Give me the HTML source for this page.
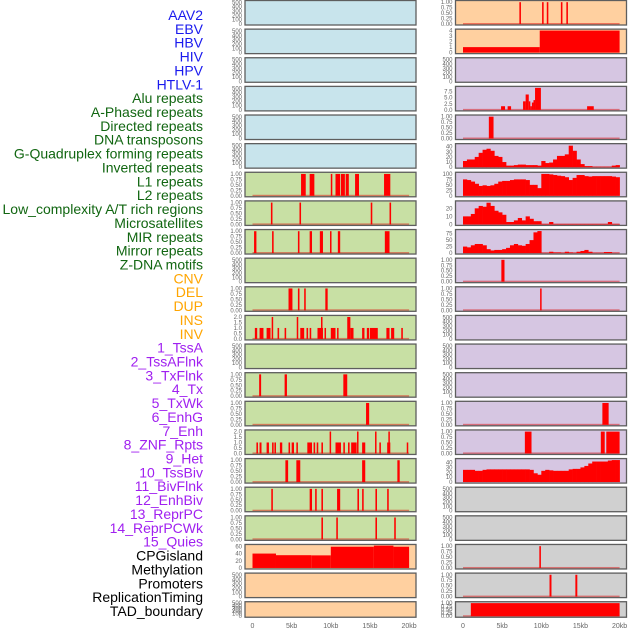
<!DOCTYPE html>
<html><head><meta charset="utf-8">
<style>
html,body{margin:0;padding:0;background:#fff;}
#wrap{position:relative;width:630px;height:630px;overflow:hidden;}
svg{position:absolute;left:0;top:0;}
</style></head>
<body>
<div id="wrap">
<svg id="chart" width="630" height="630" viewBox="0 0 630 630"></svg>
</div>
<script>
// ---- labels ----
const labelNames = ["AAV2","EBV","HBV","HIV","HPV","HTLV-1","Alu repeats","A-Phased repeats","Directed repeats","DNA transposons","G-Quadruplex forming repeats","Inverted repeats","L1 repeats","L2 repeats","Low_complexity A/T rich regions","Microsatellites","MIR repeats","Mirror repeats","Z-DNA motifs","CNV","DEL","DUP","INS","INV","1_TssA","2_TssAFlnk","3_TxFlnk","4_Tx","5_TxWk","6_EnhG","7_Enh","8_ZNF_Rpts","9_Het","10_TssBiv","11_BivFlnk","12_EnhBiv","13_ReprPC","14_ReprPCWk","15_Quies","CPGisland","Methylation","Promoters","ReplicationTiming","TAD_boundary"];
const labelGroups = [6,13,5,15,5];
const xTickLabels = ["0","5kb","10kb","15kb","20kb"];
const xTickValues = [0,5,10,15,20];

// ---- bar data [startKb, endKb, value] ----
const aluBars = [[6.2,6.8,1],[7.3,7.9,1],[10.0,10.15,1],[10.6,11.2,1],[11.3,11.8,1],[11.9,12.3,1],[13.1,13.6,1],[16.8,17.6,1]];
const aphasedBars = [[2.35,2.55,1],[6.0,6.2,1],[15.1,15.3,1],[17.5,17.7,1]];
const directedBars = [[0.2,0.5,1],[2.5,2.7,1],[5.8,6.0,1],[7.3,7.6,1],[8.6,9.0,1],[9.9,10.05,1],[10.9,11.2,1],[16.9,17.5,1]];
const gquadBars = [[4.6,5.1,1],[5.8,6.0,1],[6.6,6.8,1],[9.3,9.6,1]];
const invertedBars = [[0.3,0.6,1],[0.9,1.4,1],[1.8,2.3,1],[2.45,2.6,2],[3.2,3.4,1],[4.1,4.3,1],[5.65,5.8,2],[6.1,6.6,1],[6.9,7.1,1],[7.3,7.5,1],[8.3,9.0,1],[8.75,8.9,2],[9.2,9.3,1],[10.0,10.6,1],[10.8,10.95,1],[12.1,12.5,2],[12.5,12.9,1],[14.0,14.3,1],[14.6,14.9,1],[15.0,16.0,1],[17.1,17.5,1],[17.7,18.1,1],[19.0,19.2,1]];
const l2Bars = [[0.85,1.1,1],[4.1,4.4,1],[11.6,12.1,1]];
const lowcompBars = [[14.5,14.9,1]];
const microBars = [[0.5,0.7,1],[0.9,1.15,1],[1.8,2.1,1],[2.5,2.7,1],[2.8,3.0,1],[3.5,3.8,1],[4.6,4.8,1],[5.0,5.3,1],[5.6,5.8,1],[7.0,7.6,1],[7.8,8.0,1],[8.2,8.4,1],[8.8,9.0,1],[9.85,10.0,2],[10.6,11.3,1],[11.6,11.8,1],[12.2,12.4,1],[12.6,13.3,1],[13.35,13.5,2],[14.0,14.4,1],[15.65,15.8,2],[16.2,16.4,1],[17.2,17.6,1],[17.35,17.5,2],[19.7,19.85,1]];
const mirBars = [[4.2,4.55,1],[5.6,6.1,1],[14.0,14.4,1],[18.5,18.8,1]];
const mirrorBars = [[2.4,2.6,1],[7.3,7.6,1],[8.0,8.2,1],[8.8,9.0,1],[10.8,11.2,1],[13.4,13.6,1],[14.0,14.2,1],[15.7,15.9,1],[17.2,17.4,1]];
const zdnaBars = [[8.8,9.0,1],[10.7,10.9,1],[15.7,15.9,1],[18.1,18.3,1]];
const insBars = [[7.2,7.4,1],[10.1,10.3,1],[10.7,10.9,1],[12.5,12.7,1],[13.2,13.4,1]];
const tssaflnkBars = [[4.86,5.37,1.5],[5.7,6.14,1.5],[7.67,8.0,3.5],[8.0,8.4,6.3],[8.4,8.6,3.5],[8.6,8.8,1.5],[8.8,9.0,3],[9.0,9.2,4],[9.2,9.95,9],[15.85,16.7,1.5]];
const txflnkBars = [[3.3,3.9,1]];
const znfBars = [[4.9,5.3,1]];
const hetBars = [[9.85,10.0,1]];
const reprpcBars = [[17.8,18.6,1]];
const reprpcwkBars = [[7.9,8.75,1],[17.6,18.1,1],[18.3,20.0,1]];
const promotersBars = [[9.75,9.95,1]];
const reptimingBars = [[11.05,11.3,1],[14.35,14.6,1]];
// ---- step segments [startKb, endKb, value] ----
const cnvSegments = [[0,3,40],[3,7.5,35.5],[7.5,10,35],[10,15.5,59],[15.5,18,62],[18,20,59]];
const invSegments = [[0,9.8,1],[9.8,20,4]];
const tadSegments = [[1.0,20.0,1]];
// ---- 0.5kb bins ----
const txBins = [12,15,15,20,28,34,36,32,22,20,10,3,3,4,5,5,4,4,4,3,12,8,9,15,22,22,25,42,32,15,6,2,2,0.5,0.5,0.5,0.5,0.5,3,4];
const txwkBins = [75,72,65,55,45,48,45,48,55,65,68,68,72,75,75,75,72,50,50,35,100,100,98,95,92,90,85,72,82,95,95,90,88,90,90,90,90,90,88,85];
const enhgBins = [10,10,13,20,23,22,27,23,17,15,12,3,3,5,8,5,10,7,4,4,0.5,0.5,3,0.5,0.5,0.5,0.5,0.5,0.5,0.5,0.5,0.5,0.5,0.5,0.5,0.5,0.5,3,0.5,0.5];
const enhBins = [25,22,30,35,35,30,15,10,12,12,15,20,30,35,30,28,35,50,80,85,0.5,0.5,5,2,2,0.5,5,2,0.5,5,8,12,5,0.5,0.5,0.5,4,4,0.5,0.5];
const quiesBins = [25,25,25,23,23,25,26,26,26,26,26,26,26,26,26,26,26,25,18,15,23,25,24,23,23,23,23,26,27,27,30,33,38,42,42,42,42,44,45,45];
// ---- tick sets ----
const ticksEmpty = [0,100,200,300,400,500];
const ticks01 = [0,0.25,0.5,0.75,1];
const ticks02 = [0,0.5,1,1.5,2];
const ticksTss = [0,2.5,5,7.5];
const ticksTx = [0,10,20,30,40];
const ticksTxwk = [0,25,50,75,100];
const ticksEnhg = [0,10,20];
const ticksEnh = [0,25,50,75];
const ticksCnv = [0,20,40,60];
const ticksInv = [0,1,2,3,4];

const panels = [
 // left
 {t:"e",bg:"b"},{t:"e",bg:"b"},{t:"e",bg:"b"},{t:"e",bg:"b"},{t:"e",bg:"b"},{t:"e",bg:"b"},
 {t:"bar",d:aluBars,bg:"g",ticks:ticks01,dec:2,max:1.03},
 {t:"bar",d:aphasedBars,bg:"g",ticks:ticks01,dec:2,max:1.03},
 {t:"bar",d:directedBars,bg:"g",ticks:ticks01,dec:2,max:1.03},
 {t:"e",bg:"g"},
 {t:"bar",d:gquadBars,bg:"g",ticks:ticks01,dec:2,max:1.03},
 {t:"bar",d:invertedBars,bg:"g",ticks:ticks02,dec:1,max:2.05},
 {t:"e",bg:"g"},
 {t:"bar",d:l2Bars,bg:"g",ticks:ticks01,dec:2,max:1.03},
 {t:"bar",d:lowcompBars,bg:"g",ticks:ticks01,dec:2,max:1.03},
 {t:"bar",d:microBars,bg:"g",ticks:ticks02,dec:1,max:2.05},
 {t:"bar",d:mirBars,bg:"g",ticks:ticks01,dec:2,max:1.03},
 {t:"bar",d:mirrorBars,bg:"g",ticks:ticks01,dec:2,max:1.03},
 {t:"bar",d:zdnaBars,bg:"g",ticks:ticks01,dec:2,max:1.03},
 {t:"bar",d:cnvSegments,bg:"o",ticks:ticksCnv,dec:0,max:62.5,nobase:true},
 {t:"e",bg:"o"},{t:"e",bg:"o",h:16},
 // right
 {t:"bar",d:insBars,bg:"o",ticks:ticks01,dec:2,max:1.03},
 {t:"bar",d:invSegments,bg:"o",ticks:ticksInv,dec:0,max:4.08,nobase:true},
 {t:"e",bg:"p"},
 {t:"bar",d:tssaflnkBars,bg:"p",ticks:ticksTss,dec:1,max:9.2},
 {t:"bar",d:txflnkBars,bg:"p",ticks:ticks01,dec:2,max:1.03},
 {t:"bin",d:txBins,bg:"p",ticks:ticksTx,dec:0,max:44},
 {t:"bin",d:txwkBins,bg:"p",ticks:ticksTxwk,dec:0,max:103},
 {t:"bin",d:enhgBins,bg:"p",ticks:ticksEnhg,dec:0,max:28},
 {t:"bin",d:enhBins,bg:"p",ticks:ticksEnh,dec:0,max:87},
 {t:"bar",d:znfBars,bg:"p",ticks:ticks01,dec:2,max:1.03},
 {t:"bar",d:hetBars,bg:"p",ticks:ticks01,dec:2,max:1.03},
 {t:"e",bg:"p"},{t:"e",bg:"p"},{t:"e",bg:"p"},
 {t:"bar",d:reprpcBars,bg:"p",ticks:ticks01,dec:2,max:1.03},
 {t:"bar",d:reprpcwkBars,bg:"p",ticks:ticks01,dec:2,max:1.03},
 {t:"bin",d:quiesBins,bg:"p",ticks:ticksTx,dec:0,max:46,nobase:true},
 {t:"e",bg:"k"},{t:"e",bg:"k"},
 {t:"bar",d:promotersBars,bg:"k",ticks:ticks01,dec:2,max:1.03},
 {t:"bar",d:reptimingBars,bg:"k",ticks:ticks01,dec:2,max:1.03},
 {t:"bar",d:tadSegments,bg:"k",ticks:ticks01,dec:2,max:1.03,h:16}
];

const NS = "http://www.w3.org/2000/svg";
const svg = document.getElementById("chart");
const bgColors = {b:"#c8e4ec",g:"#c8e0a4",o:"#ffd0a0",p:"#d6c6e2",k:"#d0d0d0"};
const labelColors = ["#1a1aee","#116611","#ffa500","#a020f0","#000000"];
function mk(tag, attrs){const e=document.createElementNS(NS,tag);for(const k in attrs)e.setAttribute(k,attrs[k]);svg.appendChild(e);return e;}

// labels
let gi=0, gc=0;
labelNames.forEach((name,i)=>{
  while(gc>=labelGroups[gi]){gi++;gc=0;}
  gc++;
  const t=mk("text",{x:203,y:20+i*13.86,"text-anchor":"end","font-family":"Liberation Sans, sans-serif","font-size":"14",fill:labelColors[gi]});
  t.textContent=name;
  
  
});

const KB = 7.83;
panels.forEach((p,idx)=>{
  const col = idx<22?0:1, row = idx%22;
  const left = col===0?245:455.5, width = 171;
  const top = row*28.63, h = p.h||25, bottom = top+h;
  const xs = kb=>left+7.5+kb*KB;
  const mx = p.t==="e"?520:p.max;
  const ys = v=>bottom-1-v/mx*(h-2.5);
  const bg=mk("rect",{x:left,y:top,width:width,height:h,fill:bgColors[p.bg]});
  
  
  // ticks
  const tk = p.t==="e"?ticksEmpty:p.ticks;
  tk.forEach(v=>{
    const t=mk("text",{x:left-3,y:ys(v)+2,"text-anchor":"end","font-family":"Liberation Sans, sans-serif","font-size":"6",fill:"#666"});
    t.textContent = p.t==="e"?String(v):v.toFixed(p.dec);
    
    
  });
  if(p.t!=="e" && !p.nobase){
    const bl=mk("rect",{x:xs(0),y:ys(0)-1,width:xs(20)-xs(0),height:1.5,fill:"rgba(220,0,0,0.45)"});
    
    
  }
  if(p.t==="bar"){
    p.d.forEach(b=>{
      const x0=xs(b[0]), w=Math.max(1.5,xs(b[1])-x0);
      const r=mk("rect",{x:x0,y:ys(b[2]),width:w,height:ys(0)-ys(b[2]),fill:"#ff0000"});
      
      
    });
  } else if(p.t==="bin"){
    p.d.forEach((v,i)=>{
      const x0=xs(i*0.5), w=xs((i+1)*0.5)-x0+0.3;
      const r=mk("rect",{x:x0,y:ys(v),width:w,height:ys(0)-ys(v),fill:"#ff0000"});
      
      
    });
  }
  const fr=mk("rect",{x:left,y:top+0.5,width:width,height:h-0.5,fill:"none",stroke:"#5e5e5e","stroke-width":"1.3"});
  
  
});

// x axis labels
[245,455.5].forEach(left=>{
  xTickValues.forEach((v,i)=>{
    const t=mk("text",{x:left+7.5+v*KB,y:628,"text-anchor":"middle","font-family":"Liberation Sans, sans-serif","font-size":"7",fill:"#666"});
    t.textContent=xTickLabels[i];
    
    
  });
});
</script>
</body></html>
